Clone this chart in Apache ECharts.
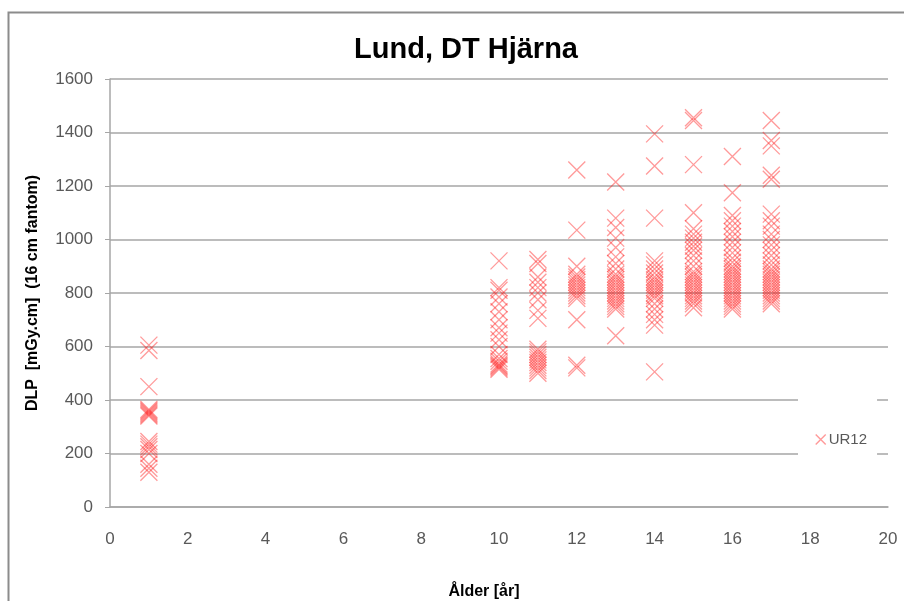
<!DOCTYPE html>
<html>
<head>
<meta charset="utf-8">
<script src="https://cdn.jsdelivr.net/npm/echarts@6/dist/echarts.min.js"></script>
<style>
html,body{margin:0;padding:0;background:#fff;}
#c{width:904px;height:601px;}
</style>
</head>
<body>
<div id="c"></div>
<script>
// ---- data ----
const title = 'Lund, DT Hjärna';
const xAxisTitle = 'Ålder [år]';
const yAxisTitle = 'DLP  [mGy.cm]  (16 cm fantom)';
const seriesName = 'UR12';
const xTicks = [0, 2, 4, 6, 8, 10, 12, 14, 16, 18, 20];
const yTicks = [0, 200, 400, 600, 800, 1000, 1200, 1400, 1600];

const age1  = [605, 585, 450, 365, 360, 355, 350, 345, 340, 245, 235, 225, 215, 200, 160, 145, 130];
const age10 = [920, 820, 810, 785, 760, 730, 700, 670, 650, 625, 600, 570, 555, 545, 535, 530, 525, 520, 515];
const age11 = [925, 910, 860, 840, 820, 800, 775, 735, 705, 590, 580, 570, 560, 550, 540, 530, 520, 510, 500];
const age12 = [1260, 1035, 900, 870, 860, 850, 840, 830, 820, 810, 800, 790, 780, 700, 530, 520];
const age13 = [1215, 1080, 1045, 1005, 970, 935, 910, 890, 870, 860, 850, 840, 830, 820, 810, 800, 790, 780, 770, 760, 750, 740, 640];
const age14 = [1395, 1275, 1080, 920, 905, 890, 875, 860, 850, 840, 830, 820, 810, 800, 790, 780, 760, 740, 720, 700, 680, 505];
const age15 = [1455, 1445, 1280, 1100, 1040, 1020, 1005, 990, 975, 960, 940, 920, 900, 880, 870, 860, 850, 840, 830, 820, 810, 800, 790, 780, 770, 760, 745];
const age16 = [1310, 1175, 1090, 1070, 1050, 1030, 1010, 990, 970, 950, 930, 915, 900, 890, 880, 870, 860, 850, 840, 830, 820, 810, 800, 790, 780, 770, 760, 750, 740];
const age17 = [1445, 1370, 1350, 1240, 1225, 1095, 1070, 1050, 1020, 1000, 980, 960, 940, 920, 905, 890, 880, 870, 860, 850, 840, 830, 820, 810, 800, 790, 780, 770, 760];

const ages = [1, 10, 11, 12, 13, 14, 15, 16, 17];
const valuesByAge = [age1, age10, age11, age12, age13, age14, age15, age16, age17];

// ---- build points ----
const points = [];
ages.forEach((a, i) => valuesByAge[i].forEach(v => points.push([a, v])));

const crossPath = 'path://M0,0L10,10M10,0L0,10';
const markColor = 'rgba(255,25,25,0.55)';
const labelColor = '#595959';
const lineColor = '#a6a6a6';
const font = "'Liberation Sans', Arial, sans-serif";

const chart = echarts.init(document.getElementById('c'), null, {renderer: 'canvas'});
chart.setOption({
  animation: false,
  backgroundColor: '#fff',
  title: {
    text: title,
    left: 461, top: 30, textAlign: 'center',
    textStyle: {fontFamily: font, fontSize: 29, fontWeight: 'bold', color: '#000'}
  },
  grid: {left: 110, right: 16, top: 79, bottom: 94, containLabel: false},
  legend: {
    left: 798, top: 399,
    padding: [33, 10, 10, 17],
    backgroundColor: '#fff',
    itemWidth: 10, itemHeight: 10, itemGap: 0,
    icon: crossPath,
    itemStyle: {color: 'rgba(0,0,0,0)', borderColor: markColor, borderWidth: 1.4},
    textStyle: {fontFamily: font, fontSize: 15, color: labelColor, padding: [0, 0, 0, -2]},
    data: [seriesName]
  },
  xAxis: {
    type: 'value', min: 0, max: 20, interval: 2,
    axisLine: {show: true, lineStyle: {color: lineColor, width: 1.5}},
    axisTick: {show: false},
    splitLine: {show: false},
    axisLabel: {
      margin: 24, color: labelColor, fontFamily: font, fontSize: 17,
      formatter: v => xTicks.includes(v) ? String(v) : ''
    }
  },
  yAxis: {
    type: 'value', min: 0, max: 1600, interval: 200,
    name: yAxisTitle, nameLocation: 'middle', nameRotate: 90, nameGap: 69,
    nameTextStyle: {fontFamily: font, fontSize: 16, fontWeight: 'bold', color: '#000'},
    axisLine: {show: true, lineStyle: {color: lineColor, width: 1.5}},
    axisTick: {show: true, inside: false, length: 5, lineStyle: {color: lineColor}},
    splitLine: {show: true, lineStyle: {color: lineColor, width: 1.5}},
    axisLabel: {
      margin: 17, color: labelColor, fontFamily: font, fontSize: 17,
      formatter: v => yTicks.includes(v) ? String(v) : ''
    }
  },
  series: [{
    name: seriesName,
    type: 'scatter',
    symbol: crossPath,
    symbolSize: 17,
    itemStyle: {color: 'rgba(0,0,0,0)', borderColor: markColor, borderWidth: 1.3},
    emphasis: {disabled: true},
    data: points,
    z: 3
  }],
  graphic: [
    {type: 'rect', left: 6, top: 10, z: -10, silent: true,
     shape: {width: 1000, height: 1000},
     style: {fill: 'none', stroke: '#8c8c8c', lineWidth: 2}},
    {type: 'text', x: 484, y: 592, silent: true,
     style: {text: xAxisTitle, fontFamily: font, fontSize: 16, fontWeight: 'bold', fill: '#000',
             textAlign: 'center', textVerticalAlign: 'middle'}}
  ]
});
</script>
</body>
</html>
